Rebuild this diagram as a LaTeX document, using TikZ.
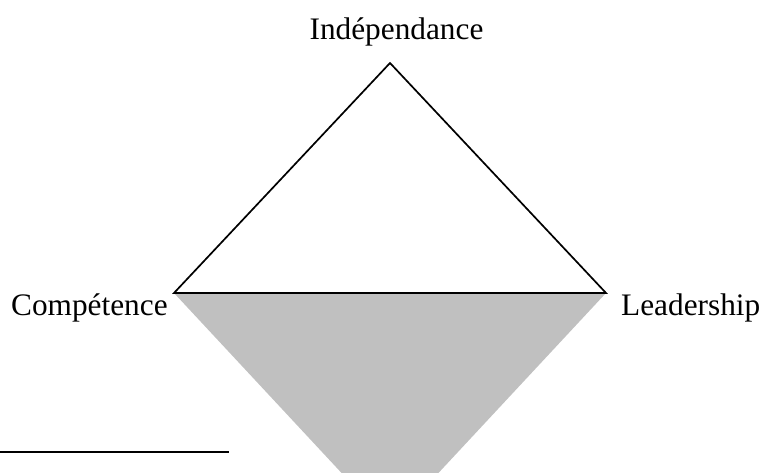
\documentclass[tikz,border=0pt]{standalone}
\usepackage{fontspec}
\setmainfont{Liberation Serif}
\begin{document}
\begin{tikzpicture}[x=1pt,y=-1pt,
  lbl/.style={inner sep=0pt,font=\fontsize{31.3}{37}\selectfont},
  edge/.style={line width=1.7pt,line join=miter},
  shade/.style={fill={rgb,255:red,192;green,192;blue,192}}]
\useasboundingbox (0,0) rectangle (765,472);
\clip (0,0) rectangle (765,472);
\coordinate (top) at (390,63);
\coordinate (left) at (174,293);
\coordinate (right) at (606,293);
\coordinate (bottom) at (390,525);
\coordinate (r0) at (0,452);
\coordinate (r1) at (229,452);
\fill[shade] (left) -- (right) -- (bottom) -- cycle;
\draw[edge] (left) -- (top) -- (right) -- cycle;
\draw[line width=2pt] (r0) -- (r1);
\node[lbl,anchor=base] (ind) at (396.5,39) {Indépendance};
\node[lbl,anchor=base west] (comp) at (11,315) {Compétence};
\node[lbl,anchor=base west] (lead) at (621,315) {Leadership};
\end{tikzpicture}
\end{document}
